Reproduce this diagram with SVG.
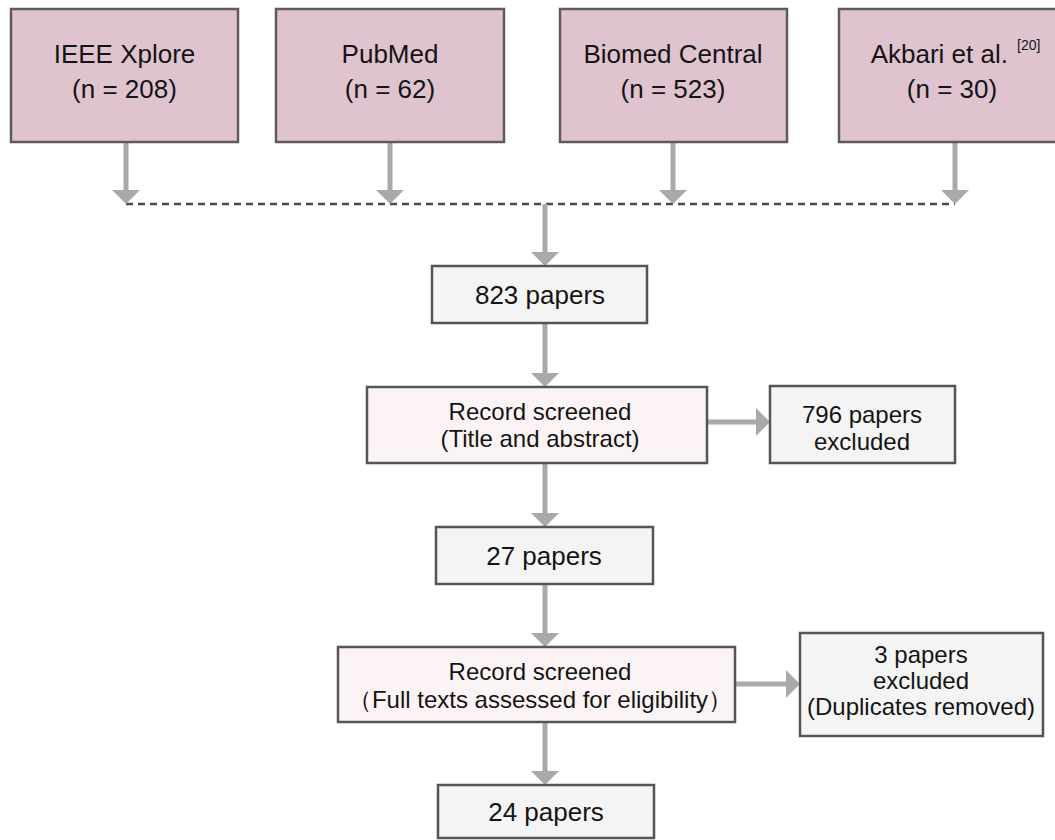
<svg xmlns="http://www.w3.org/2000/svg" width="1055" height="840" viewBox="0 0 1055 840">
<style>
  .src { fill: #dfc4d0; stroke: #5f5a5c; stroke-width: 2.5; }
  .rec { fill: #fcf4f4; stroke: #555555; stroke-width: 2.5; }
  .cnt { fill: #f4f4f4; stroke: #555555; stroke-width: 2.5; }
  .t26 { font-family: "Liberation Sans", Arial, sans-serif; font-size: 26px; fill: #141414; text-anchor: middle; }
  .t24 { font-family: "Liberation Sans", Arial, sans-serif; font-size: 24px; fill: #141414; text-anchor: middle; }
  .sup { font-family: "Liberation Sans", Arial, sans-serif; font-size: 14px; fill: #141414; }
  .arr { stroke: #a9a9a9; stroke-width: 5; fill: none; marker-end: url(#head); }
  .dash { stroke: #4a4a4a; stroke-width: 2.5; stroke-dasharray: 7 5; fill: none; }
</style>
<defs>
  <marker id="head" viewBox="0 0 14 28" refX="0" refY="14" markerWidth="14" markerHeight="28" markerUnits="userSpaceOnUse" orient="auto">
    <path d="M0,0 L14,14 L0,28 z" fill="#a9a9a9"/>
  </marker>
</defs>
<rect width="1055" height="840" fill="#ffffff"/>

<g id="connectors">
  <line class="dash" x1="126" y1="204" x2="955" y2="204"/>
  <line class="arr" x1="126" y1="142" x2="126" y2="190"/>
  <line class="arr" x1="390" y1="142" x2="390" y2="190"/>
  <line class="arr" x1="673" y1="142" x2="673" y2="190"/>
  <line class="arr" x1="955" y1="142" x2="955" y2="190"/>
  <line class="arr" x1="545" y1="204" x2="545" y2="252"/>
  <line class="arr" x1="545" y1="323" x2="545" y2="373"/>
  <line class="arr" x1="707" y1="422" x2="756" y2="422"/>
  <line class="arr" x1="545" y1="463" x2="545" y2="513"/>
  <line class="arr" x1="545" y1="584" x2="545" y2="633"/>
  <line class="arr" x1="735" y1="684" x2="786" y2="684"/>
  <line class="arr" x1="545" y1="722" x2="545" y2="771"/>
</g>

<g id="ieee">
  <rect class="src" x="11" y="9" width="227" height="133"/>
  <text class="t26" x="124.5" y="63">IEEE Xplore</text>
  <text class="t26" x="124.5" y="98">(n = 208)</text>
</g>
<g id="pubmed">
  <rect class="src" x="276" y="9" width="228" height="133"/>
  <text class="t26" x="390" y="63">PubMed</text>
  <text class="t26" x="390" y="98">(n = 62)</text>
</g>
<g id="biomed">
  <rect class="src" x="560" y="9" width="227" height="133"/>
  <text class="t26" x="673" y="63">Biomed Central</text>
  <text class="t26" x="673" y="98">(n = 523)</text>
</g>
<g id="akbari">
  <rect class="src" x="839" y="9" width="227" height="133"/>
  <text class="t26" x="1008" y="63" style="text-anchor:end">Akbari et al.</text>
  <text class="sup" x="1017" y="50">[20]</text>
  <text class="t26" x="952" y="98">(n = 30)</text>
</g>

<g id="n823">
  <rect class="cnt" x="432" y="266" width="215" height="57"/>
  <text class="t26" x="540" y="304">823 papers</text>
</g>
<g id="screen1">
  <rect class="rec" x="367" y="387" width="340" height="76"/>
  <text class="t24" x="540" y="420">Record screened</text>
  <text class="t24" x="540" y="447">(Title and abstract)</text>
</g>
<g id="excl796">
  <rect class="cnt" x="770" y="386" width="185" height="77"/>
  <text class="t24" x="862" y="423">796 papers</text>
  <text class="t24" x="862" y="450">excluded</text>
</g>
<g id="n27">
  <rect class="cnt" x="436" y="527" width="217" height="57"/>
  <text class="t26" x="544" y="565">27 papers</text>
</g>
<g id="screen2">
  <rect class="rec" x="338" y="647" width="397" height="75"/>
  <text class="t24" x="540" y="680">Record screened</text>
  <text class="t24" x="540" y="708">（Full texts assessed for eligibility）</text>
</g>
<g id="excl3">
  <rect class="cnt" x="800" y="633" width="243" height="103"/>
  <text class="t24" x="921" y="663">3 papers</text>
  <text class="t24" x="921" y="689">excluded</text>
  <text class="t24" x="921" y="715">(Duplicates removed)</text>
</g>
<g id="n24">
  <rect class="cnt" x="438" y="785" width="216" height="53"/>
  <text class="t26" x="546" y="821">24 papers</text>
</g>
</svg>
